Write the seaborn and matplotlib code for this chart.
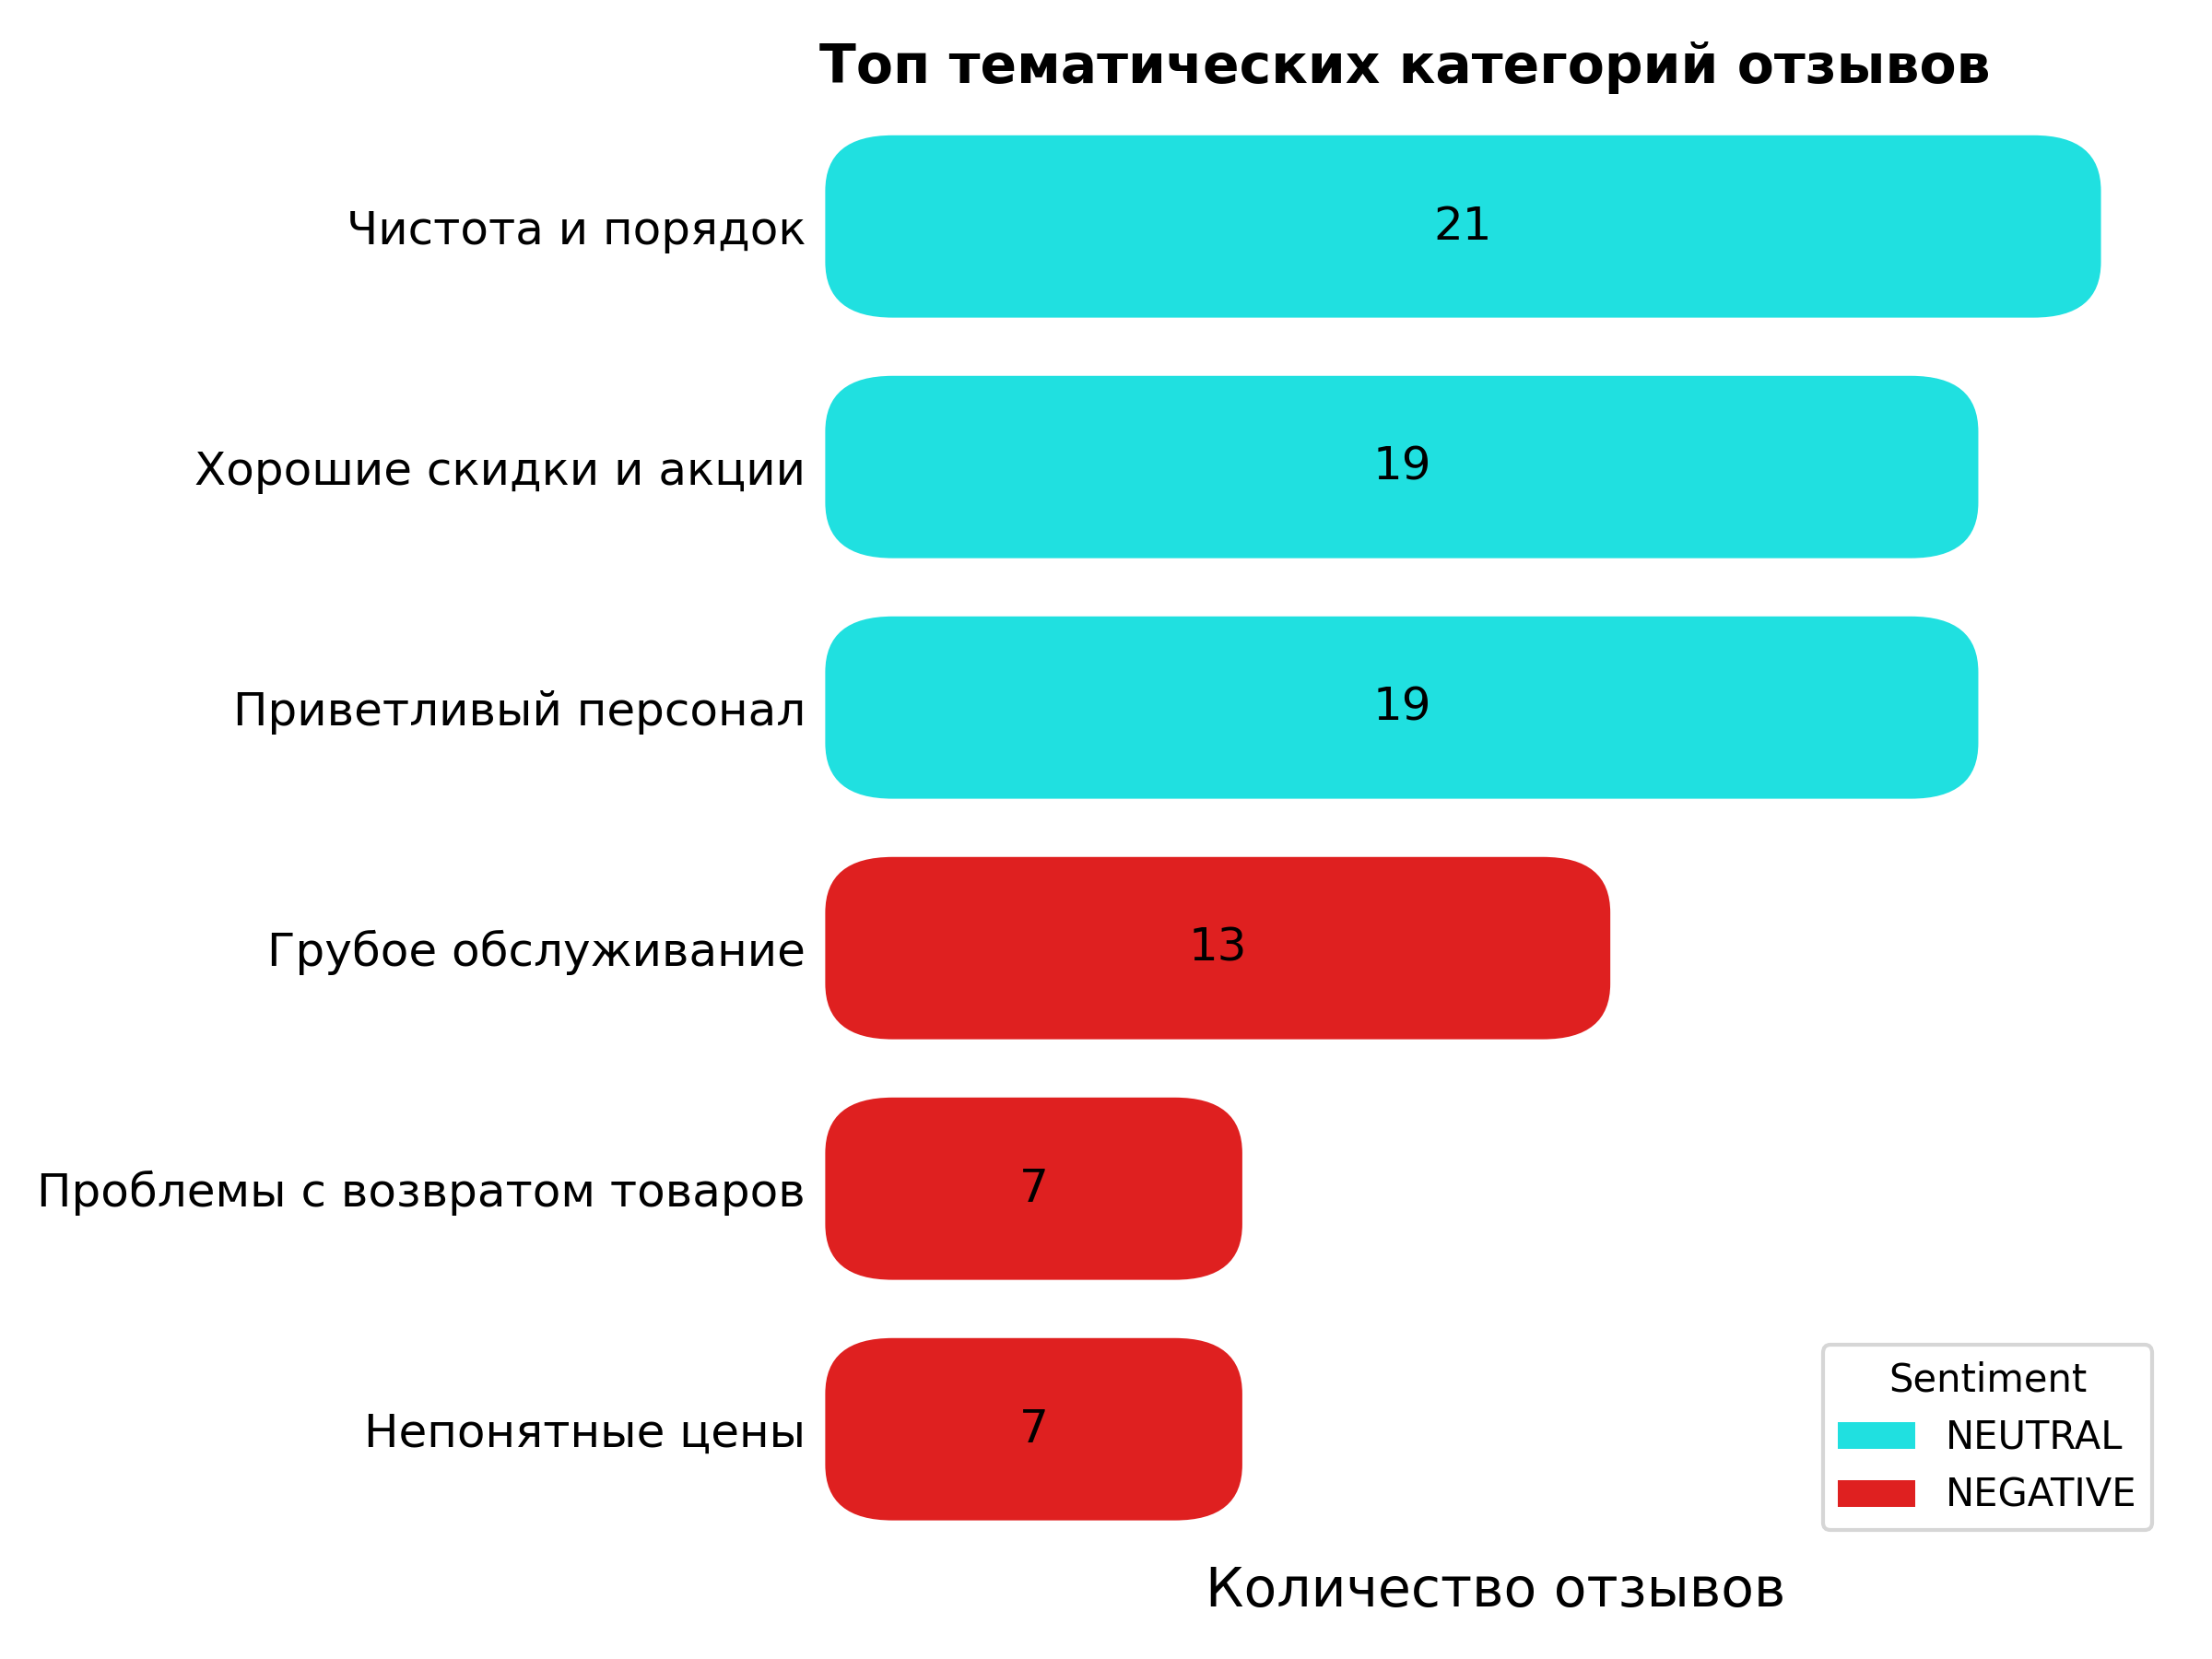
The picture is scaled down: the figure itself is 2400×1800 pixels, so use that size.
import matplotlib.pyplot as plt
import seaborn as sns
import pandas as pd
from matplotlib.patches import FancyBboxPatch, Patch

categories = [
    "Чистота и порядок",
    "Хорошие скидки и акции",
    "Приветливый персонал",
    "Грубое обслуживание",
    "Проблемы с возвратом товаров",
    "Непонятные цены",
]
counts = [21, 19, 19, 13, 7, 7]
sentiments = ["NEUTRAL", "NEUTRAL", "NEUTRAL", "NEGATIVE", "NEGATIVE", "NEGATIVE"]
palette = {"NEUTRAL": "#20e0e0", "NEGATIVE": "#df2020"}

df = pd.DataFrame({"category": categories, "count": counts, "sentiment": sentiments})

plt.rcParams["font.family"] = ["DejaVu Sans"]
fig, ax = plt.subplots(figsize=(8, 6), dpi=300)
sns.barplot(
    data=df,
    x="count",
    y="category",
    hue="sentiment",
    palette=palette,
    saturation=1,
    dodge=False,
    legend=False,
    ax=ax,
)

# swap the plain bars for rounded ones
for p in list(ax.patches):
    x, y = p.get_x(), p.get_y()
    w, h = p.get_width(), p.get_height()
    color = p.get_facecolor()
    p.remove()
    if w == 0:
        continue
    ax.add_patch(
        FancyBboxPatch(
            (x, y), w, h,
            boxstyle="round,pad=-0.1,rounding_size=1.1",
            mutation_aspect=0.21,
            facecolor=color,
            edgecolor="none",
        )
    )

for i, c in enumerate(counts):
    ax.text(c / 2, i, str(c), ha="center", va="center", fontsize=12, color="black")

ax.set_xlim(0, max(counts) * 1.05)
ax.set_xticks([])
ax.set_ylabel("")
ax.set_xlabel("Количество отзывов", fontsize=14)
ax.tick_params(axis="y", length=0, pad=3.5, labelsize=12)
for s in ax.spines.values():
    s.set_visible(False)
ax.set_title("Топ тематических категорий отзывов", loc="left", fontsize=14, fontweight="bold")

handles = [Patch(facecolor=palette[k], label=k) for k in ["NEUTRAL", "NEGATIVE"]]
ax.legend(handles=handles, title="Sentiment", loc="lower right", fontsize=10, title_fontsize=10)

plt.subplots_adjust(left=0.3703, right=0.9817, top=0.936, bottom=0.066)
plt.savefig("out.png", dpi=300)
